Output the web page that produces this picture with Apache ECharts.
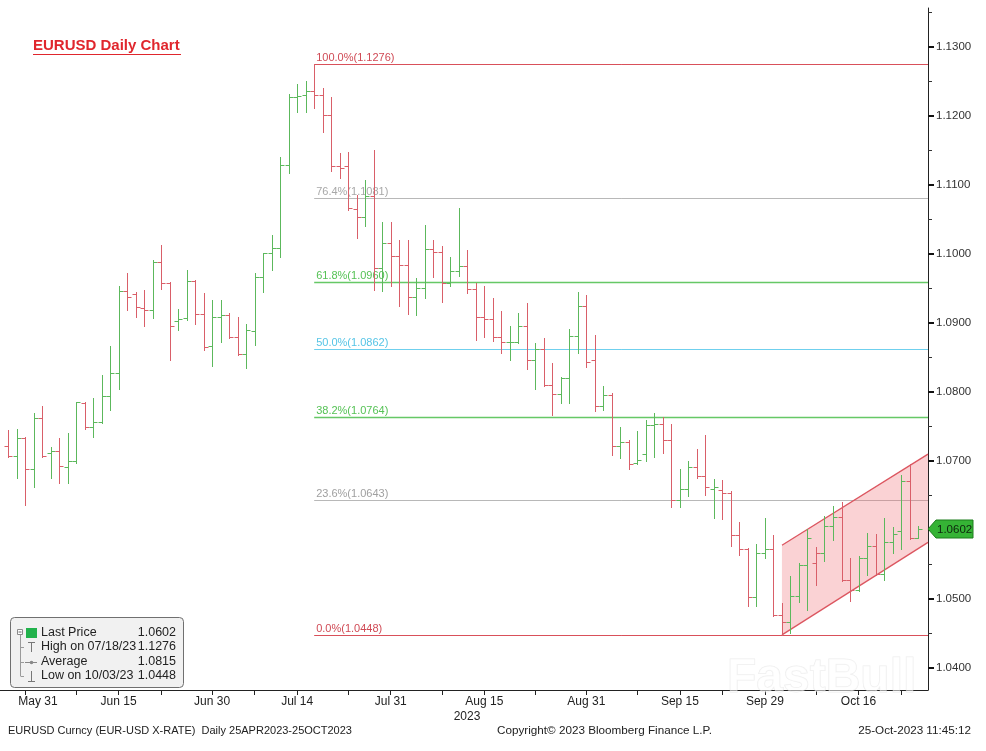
<!DOCTYPE html>
<html>
<head>
<meta charset="utf-8">
<script src="https://cdn.jsdelivr.net/npm/echarts@6/dist/echarts.min.js"></script>
<style>
html,body{margin:0;padding:0;background:#fff;}
#chart{width:986px;height:751px;}
</style>
</head>
<body>
<div id="chart"></div>
<script>
// ---------- DATA ----------
const dates = [
 '05-29','05-30','05-31',
 '06-01','06-02','06-05','06-06','06-07','06-08','06-09','06-12','06-13','06-14','06-15','06-16','06-19','06-20','06-21','06-22','06-23','06-26','06-27','06-28','06-29','06-30',
 '07-03','07-04','07-05','07-06','07-07','07-10','07-11','07-12','07-13','07-14','07-17','07-18','07-19','07-20','07-21','07-24','07-25','07-26','07-27','07-28','07-31',
 '08-01','08-02','08-03','08-04','08-07','08-08','08-09','08-10','08-11','08-14','08-15','08-16','08-17','08-18','08-21','08-22','08-23','08-24','08-25','08-28','08-29','08-30','08-31',
 '09-01','09-04','09-05','09-06','09-07','09-08','09-11','09-12','09-13','09-14','09-15','09-18','09-19','09-20','09-21','09-22','09-25','09-26','09-27','09-28','09-29',
 '10-02','10-03','10-04','10-05','10-06','10-09','10-10','10-11','10-12','10-13','10-16','10-17','10-18','10-19','10-20','10-23','10-24','10-25'
];
const open = [
 1.0722,1.0707,1.0734,1.0689,1.0762,1.0712,1.0714,1.0692,1.0700,1.0784,
 1.0749,1.0757,1.0794,1.0827,1.0946,1.0942,1.0922,1.0919,1.0989,1.0958,
 1.0903,1.0907,1.0961,1.0913,1.0866,1.0909,1.0911,1.0879,1.0855,1.0888,
 1.0966,1.1001,1.1008,1.1129,1.1227,1.1230,1.1236,1.1230,1.1201,1.1128,
 1.1127,1.1065,1.1054,1.1084,1.0979,1.1016,1.0997,1.0984,1.0938,1.0951,
 1.1007,1.1003,1.0958,1.0975,1.0982,1.0950,1.0908,1.0906,1.0880,1.0872,
 1.0873,1.0896,1.0846,1.0863,1.0810,1.0797,1.0820,1.0881,1.0924,1.0846,
 1.0780,1.0796,1.0722,1.0727,1.0697,1.0710,1.0752,1.0754,1.0730,1.0643,
 1.0659,1.0692,1.0678,1.0660,1.0658,1.0653,1.0593,1.0572,1.0503,1.0566,
 1.0572,1.0477,1.0467,1.0504,1.0550,1.0552,1.0567,1.0606,1.0619,1.0528,
 1.0513,1.0560,1.0577,1.0536,1.0582,1.0598,1.0671,1.0589
];
const high = [
 1.0745,1.0747,1.0735,1.0769,1.0779,1.0721,1.0733,1.0740,1.0786,1.0785,
 1.0791,1.0825,1.0866,1.0953,1.0972,1.0945,1.0948,1.0991,1.1013,1.0960,
 1.0920,1.0977,1.0962,1.0943,1.0933,1.0934,1.0915,1.0908,1.0899,1.0973,
 1.1002,1.1028,1.1141,1.1232,1.1247,1.1250,1.1276,1.1240,1.1228,1.1146,
 1.1148,1.1086,1.1107,1.1151,1.1047,1.1047,1.1020,1.1020,1.0965,1.1042,
 1.1020,1.1011,1.0996,1.1066,1.1006,1.0958,1.0953,1.0936,1.0918,1.0895,
 1.0914,1.0929,1.0871,1.0878,1.0842,1.0822,1.0892,1.0945,1.0941,1.0883,
 1.0809,1.0798,1.0749,1.0731,1.0743,1.0759,1.0769,1.0764,1.0754,1.0688,
 1.0700,1.0718,1.0738,1.0674,1.0673,1.0657,1.0611,1.0574,1.0580,1.0618,
 1.0593,1.0494,1.0533,1.0552,1.0601,1.0576,1.0620,1.0635,1.0640,1.0559,
 1.0562,1.0595,1.0594,1.0617,1.0605,1.0680,1.0696,1.0606
];
const low = [
 1.0706,1.0675,1.0636,1.0663,1.0706,1.0675,1.0668,1.0668,1.0697,1.0747,
 1.0735,1.0755,1.0774,1.0805,1.0919,1.0908,1.0895,1.0907,1.0950,1.0846,
 1.0890,1.0904,1.0898,1.0861,1.0837,1.0873,1.0878,1.0854,1.0835,1.0868,
 1.0945,1.0977,1.0995,1.1118,1.1206,1.1206,1.1211,1.1177,1.1120,1.1110,
 1.1064,1.1023,1.1040,1.0948,1.0946,1.0953,1.0925,1.0913,1.0912,1.0936,
 1.0967,1.0930,1.0953,1.0968,1.0944,1.0876,1.0880,1.0874,1.0857,1.0846,
 1.0871,1.0834,1.0804,1.0808,1.0767,1.0784,1.0784,1.0856,1.0836,1.0773,
 1.0774,1.0709,1.0705,1.0688,1.0696,1.0700,1.0706,1.0712,1.0633,1.0634,
 1.0649,1.0676,1.0651,1.0618,1.0616,1.0577,1.0564,1.0490,1.0490,1.0559,
 1.0475,1.0448,1.0451,1.0495,1.0484,1.0520,1.0555,1.0585,1.0526,1.0497,
 1.0511,1.0535,1.0535,1.0528,1.0566,1.0573,1.0587,1.0589
];
const close = [
 1.0707,1.0734,1.0689,1.0762,1.0707,1.0714,1.0693,1.0700,1.0785,1.0750,
 1.0757,1.0794,1.0827,1.0946,1.0938,1.0923,1.0919,1.0989,1.0958,1.0895,
 1.0906,1.0961,1.0913,1.0865,1.0909,1.0912,1.0879,1.0855,1.0890,1.0966,
 1.1001,1.1008,1.1129,1.1228,1.1229,1.1236,1.1230,1.1201,1.1128,1.1125,
 1.1066,1.1054,1.1084,1.0979,1.1016,1.0997,1.0984,1.0938,1.0951,1.1007,
 1.1003,1.0958,1.0975,1.0982,1.0950,1.0908,1.0906,1.0880,1.0872,1.0873,
 1.0896,1.0846,1.0863,1.0810,1.0797,1.0820,1.0881,1.0924,1.0843,1.0780,
 1.0796,1.0722,1.0727,1.0696,1.0701,1.0752,1.0754,1.0730,1.0643,1.0659,
 1.0692,1.0678,1.0662,1.0663,1.0653,1.0593,1.0572,1.0503,1.0566,1.0572,
 1.0477,1.0467,1.0504,1.0550,1.0588,1.0567,1.0606,1.0619,1.0528,1.0513,
 1.0560,1.0577,1.0536,1.0582,1.0594,1.0671,1.0589,1.0602
];
// x-axis tick labels
const axisLabelDates = ['05-31','06-15','06-30','07-14','07-31','08-15','08-31','09-15','09-29','10-16'];
const axisLabelTexts = ['May 31','Jun 15','Jun 30','Jul 14','Jul 31','Aug 15','Aug 31','Sep 15','Sep 29','Oct 16'];
const axisMinorTickDates = ['06-08','06-22','07-07','07-24','08-08','08-23','09-08','09-22','10-09','10-23'];
// y-axis tick labels
const yLabelValues = [1.04,1.05,1.06,1.07,1.08,1.09,1.10,1.11,1.12,1.13];
const yMinorTickValues = [1.045,1.055,1.065,1.075,1.085,1.095,1.105,1.115,1.125,1.135];
// Fibonacci retracement levels
const fibStartDate = '07-18';
const fibLevels = ['100.0%','76.4%','61.8%','50.0%','38.2%','23.6%','0.0%'];
const fibPrices = [1.1276, 1.1081, 1.0960, 1.0862, 1.0764, 1.0643, 1.0448];
// rising channel (start at the 10/03 low, ends at right edge)
const channelStartDate = '10-03';
const channelLower = [1.0448, 1.0582];
const channelUpper = [1.0578, 1.0710];
// legend
const legendLabels = ['Last Price','High on 07/18/23','Average','Low on 10/03/23'];
const legendValues = ['1.0602','1.1276','1.0815','1.0448'];
const lastPrice = 1.0602;

// ---------- STYLE / LAYOUT ----------
const UP = '#5cb85c', DOWN = '#d95f69';
const FONT = '"Liberation Sans", Arial, sans-serif';
const X_MIN = -0.94, X_MAX = 108.17;
const Y_MIN = 1.036812, Y_MAX = 1.135652;
const fibLine = ['#d9505a','#b8b8b8','#66c866','#6fd0ee','#66c866','#b8b8b8','#d9505a'];
const fibText = ['#d04a55','#a8a8a8','#55c255','#55c4e6','#55c255','#a0a0a0','#d04a55'];
const fibWidth = [1,1,1.6,1,1.6,1,1];

const labelIdx = axisLabelDates.map(d => dates.indexOf(d));
const tickIdx = labelIdx.concat(axisMinorTickDates.map(d => dates.indexOf(d)));
const labelMap = {};
labelIdx.forEach((ix, k) => { labelMap[ix] = k === 0 ? '{f|' + axisLabelTexts[k] + '}' : axisLabelTexts[k]; });

const ohlcData = dates.map((d, i) => [i, open[i], high[i], low[i], close[i], i ? close[i - 1] : open[i]]);
const fibStart = dates.indexOf(fibStartDate);
const fibData = fibPrices.map((p, k) => [fibStart, p, k]);
const chStart = dates.indexOf(channelStartDate);

function crisp(v) { return Math.round(v) + 0.5; }
function txtStyle(o) {
  if (o.textAlign) o.align = o.textAlign;
  if (o.textVerticalAlign) o.verticalAlign = o.textVerticalAlign;
  return o;
}

const chart = echarts.init(document.getElementById('chart'), null, {renderer: 'canvas'});

const graphics = [];
// title
graphics.push({type: 'text', x: 33, y: 46, z: 50, style: txtStyle({text: 'EURUSD Daily Chart', font: 'bold 15px ' + FONT, fill: '#e0262d', textAlign: 'left', textVerticalAlign: 'middle'})});
graphics.push({type: 'line', z: 50, shape: {x1: 33, y1: 54.5, x2: 181, y2: 54.5}, style: {stroke: '#e0262d', lineWidth: 1}});
// legend box
graphics.push({type: 'rect', z: 50, shape: {x: 10.5, y: 617.5, width: 173, height: 70, r: 4}, style: {fill: '#f1f1f1', stroke: '#707070', lineWidth: 1}});
const rowY = [633, 647, 662, 676];
legendLabels.forEach((t, k) => {
  graphics.push({type: 'text', x: 41, y: rowY[k], z: 51, style: txtStyle({text: t, font: '12.5px ' + FONT, fill: '#222', textAlign: 'left', textVerticalAlign: 'middle'})});
  graphics.push({type: 'text', x: 176, y: rowY[k], z: 51, style: txtStyle({text: legendValues[k], font: '12.5px ' + FONT, fill: '#222', textAlign: 'right', textVerticalAlign: 'middle'})});
});
// legend icons
graphics.push({type: 'rect', z: 51, shape: {x: 17.5, y: 629.5, width: 5, height: 5}, style: {fill: '#fff', stroke: '#8a8a8a', lineWidth: 1}});
graphics.push({type: 'line', z: 51, shape: {x1: 18.5, y1: 632, x2: 21.5, y2: 632}, style: {stroke: '#666', lineWidth: 1}});
graphics.push({type: 'rect', z: 51, shape: {x: 26, y: 628, width: 11, height: 10}, style: {fill: '#22b24c'}});
graphics.push({type: 'line', z: 51, shape: {x1: 20.5, y1: 635, x2: 20.5, y2: 676}, style: {stroke: '#9a9a9a', lineWidth: 1}});
[647, 662, 676].forEach(y => graphics.push({type: 'line', z: 51, shape: {x1: 20.5, y1: y + 0.5, x2: 24, y2: y + 0.5}, style: {stroke: '#9a9a9a', lineWidth: 1}}));
graphics.push({type: 'line', z: 51, shape: {x1: 28, y1: 642.5, x2: 35, y2: 642.5}, style: {stroke: '#777', lineWidth: 1}});
graphics.push({type: 'line', z: 51, shape: {x1: 31.5, y1: 642, x2: 31.5, y2: 652}, style: {stroke: '#777', lineWidth: 1}});
graphics.push({type: 'line', z: 51, shape: {x1: 25, y1: 662.5, x2: 37, y2: 662.5}, style: {stroke: '#888', lineWidth: 1}});
graphics.push({type: 'circle', z: 51, shape: {cx: 31.5, cy: 662.5, r: 1.8}, style: {fill: '#888'}});
graphics.push({type: 'line', z: 51, shape: {x1: 31.5, y1: 671, x2: 31.5, y2: 681}, style: {stroke: '#777', lineWidth: 1}});
graphics.push({type: 'line', z: 51, shape: {x1: 28, y1: 681.5, x2: 35, y2: 681.5}, style: {stroke: '#777', lineWidth: 1}});
// year under axis
graphics.push({type: 'text', x: 467, y: 717, z: 50, style: txtStyle({text: '2023', font: '12px ' + FONT, fill: '#222', textAlign: 'center', textVerticalAlign: 'middle'})});
// footer
graphics.push({type: 'text', x: 8, y: 731, z: 50, style: txtStyle({text: 'EURUSD Curncy (EUR-USD X-RATE)  Daily 25APR2023-25OCT2023', font: '11px ' + FONT, fill: '#222', textAlign: 'left', textVerticalAlign: 'middle'})});
graphics.push({type: 'text', x: 497, y: 731, z: 50, style: txtStyle({text: 'Copyright\u00a9 2023 Bloomberg Finance L.P.', font: '11.7px ' + FONT, fill: '#222', textAlign: 'left', textVerticalAlign: 'middle'})});
graphics.push({type: 'text', x: 971, y: 731, z: 50, style: txtStyle({text: '25-Oct-2023 11:45:12', font: '11.7px ' + FONT, fill: '#222', textAlign: 'right', textVerticalAlign: 'middle'})});
// watermark
graphics.push({type: 'text', x: 727, y: 679, z: 60, style: txtStyle({text: 'FastBull', font: 'bold 48px ' + FONT, fill: 'rgba(255,255,255,0.55)', stroke: 'rgba(215,215,215,0.45)', lineWidth: 1, textAlign: 'left', textVerticalAlign: 'middle'})});

const option = {
  animation: false,
  backgroundColor: '#ffffff',
  grid: {left: 0, right: 58, top: 8, bottom: 61, containLabel: false},
  xAxis: {
    type: 'value', min: X_MIN, max: X_MAX,
    axisLine: {show: true, onZero: false, lineStyle: {color: '#222', width: 1}},
    axisTick: {show: true, customValues: tickIdx, length: 5, lineStyle: {color: '#222'}},
    axisLabel: {
      customValues: labelIdx, margin: 6, color: '#222', fontFamily: FONT, fontSize: 12,
      formatter: v => labelMap[Math.round(v)] || '',
      rich: {f: {padding: [0, 0, 0, 26], fontFamily: FONT, fontSize: 12, color: '#222'}}
    },
    splitLine: {show: false}
  },
  yAxis: [{
    type: 'value', position: 'right', min: Y_MIN, max: Y_MAX, scale: true,
    axisLine: {show: true, onZero: false, lineStyle: {color: '#222', width: 1}},
    axisTick: {show: true, customValues: yLabelValues, length: 6, lineStyle: {color: '#111', width: 2}},
    axisLabel: {customValues: yLabelValues, margin: 8, color: '#333', fontFamily: FONT, fontSize: 11.5, formatter: v => v.toFixed(4)},
    splitLine: {show: false}
  }, {
    type: 'value', position: 'right', offset: 0, min: Y_MIN, max: Y_MAX, scale: true,
    axisLine: {show: false, onZero: false},
    axisTick: {show: true, customValues: yMinorTickValues, length: 4, lineStyle: {color: '#333', width: 1}},
    axisLabel: {show: false},
    splitLine: {show: false}
  }],
  graphic: graphics,
  series: [
    {
      name: 'fib', type: 'custom', z: 1, silent: true,
      data: fibData,
      encode: {x: 0, y: 1},
      renderItem: function (params, api) {
        const k = api.value(2);
        const p = api.coord([api.value(0), api.value(1)]);
        const cs = params.coordSys;
        const y = crisp(p[1]);
        return {type: 'group', children: [
          {type: 'line', shape: {x1: p[0], y1: y, x2: cs.x + cs.width, y2: y}, style: {stroke: fibLine[k], lineWidth: fibWidth[k]}},
          {type: 'text', style: txtStyle({text: fibLevels[k] + '(' + fibPrices[k].toFixed(4) + ')', x: p[0] + 2, y: y - 1, fill: fibText[k], font: '11px ' + FONT, textAlign: 'left', textVerticalAlign: 'bottom'})}
        ]};
      }
    },
    {
      name: 'channel', type: 'custom', z: 2, silent: true,
      data: [[chStart, channelLower[0], channelUpper[0], X_MAX, channelLower[1], channelUpper[1]]],
      encode: {x: 0, y: 1},
      renderItem: function (params, api) {
        const a = api.coord([api.value(0), api.value(1)]);
        const b = api.coord([api.value(3), api.value(4)]);
        const c = api.coord([api.value(3), api.value(5)]);
        const d = api.coord([api.value(0), api.value(2)]);
        return {type: 'group', children: [
          {type: 'polygon', shape: {points: [a, b, c, d]}, style: {fill: 'rgba(238,105,112,0.30)'}},
          {type: 'line', shape: {x1: a[0], y1: a[1], x2: b[0], y2: b[1]}, style: {stroke: '#dc5660', lineWidth: 1.3}},
          {type: 'line', shape: {x1: d[0], y1: d[1], x2: c[0], y2: c[1]}, style: {stroke: '#dc5660', lineWidth: 1.3}}
        ]};
      }
    },
    {
      name: 'EURUSD', type: 'custom', z: 3, silent: true,
      data: ohlcData,
      dimensions: ['idx', 'open', 'high', 'low', 'close', 'prev'],
      encode: {x: 0, y: [1, 2, 3, 4]},
      renderItem: function (params, api) {
        const i = api.value(0), o = api.value(1), h = api.value(2), l = api.value(3), c = api.value(4), pc = api.value(5);
        const pH = api.coord([i, h]), pL = api.coord([i, l]), pO = api.coord([i, o]), pC = api.coord([i, c]);
        const x = crisp(pH[0]);
        const style = {stroke: c >= pc ? UP : DOWN, lineWidth: 1};
        const yo = crisp(pO[1]), yc = crisp(pC[1]);
        return {type: 'group', children: [
          {type: 'line', shape: {x1: x, y1: Math.round(pH[1]), x2: x, y2: Math.round(pL[1]) + 1}, style: style},
          {type: 'line', shape: {x1: x - 4, y1: yo, x2: x, y2: yo}, style: style},
          {type: 'line', shape: {x1: x, y1: yc, x2: x + 4, y2: yc}, style: style}
        ]};
      }
    },
    {
      name: 'last', type: 'custom', z: 10, silent: true,
      data: [[dates.length - 1, lastPrice]],
      encode: {x: 0, y: 1},
      renderItem: function (params, api) {
        const p = api.coord([api.value(0), api.value(1)]);
        const cs = params.coordSys;
        const gx = cs.x + cs.width;
        const y = Math.round(p[1]);
        return {type: 'group', children: [
          {type: 'polygon', shape: {points: [[gx, y], [gx + 8, y - 9], [gx + 45, y - 9], [gx + 45, y + 9], [gx + 8, y + 9]]}, style: {fill: '#35b335', stroke: '#1d7d1d', lineWidth: 1}},
          {type: 'text', style: txtStyle({text: lastPrice.toFixed(4), x: gx + 9, y: y + 0.5, fill: '#0e260e', font: '11.5px ' + FONT, textAlign: 'left', textVerticalAlign: 'middle'})}
        ]};
      }
    }
  ]
};
chart.setOption(option);
</script>
</body>
</html>
